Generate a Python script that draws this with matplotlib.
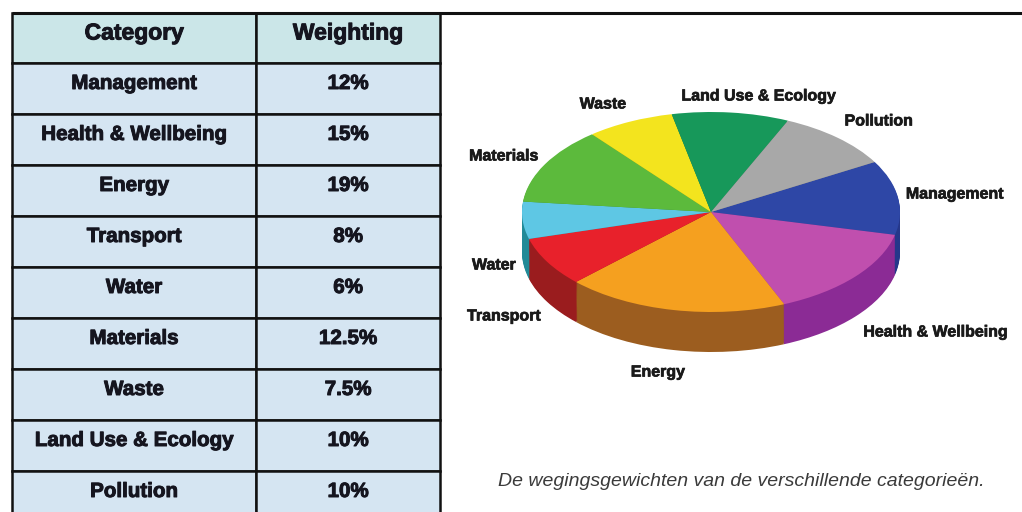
import numpy as np
import matplotlib.pyplot as plt
import matplotlib.patheffects as pe
from matplotlib.patches import Rectangle

# data
categories = ['Management', 'Health & Wellbeing', 'Energy', 'Transport', 'Water',
              'Materials', 'Waste', 'Land Use & Ecology', 'Pollution']
weightings = [12, 15, 19, 8, 6, 12.5, 7.5, 10, 10]
weight_labels = ['12%', '15%', '19%', '8%', '6%', '12.5%', '7.5%', '10%', '10%']
header = ['Category', 'Weighting']
caption = 'De wegingsgewichten van de verschillende categorieën.'

slice_colors = ['#2e47a6', '#c04fae', '#f5a01f', '#e8212b', '#5ec7e4',
                '#5cba3c', '#f3e41e', '#17985a', '#a8a8a8']
side_colors = ['#25378a', '#8b2b95', '#9c5d1f', '#9a1c1e', '#218a97',
               '#3f8a2a', '#b0a514', '#0f6e40', '#7a7a7a']

# pixel positions of the pie labels (centre of text)
label_pos = [(955, 194), (936, 332), (658, 372), (504, 316), (494, 265),
             (504, 156), (603, 104), (759, 96), (879, 121)]

plt.rcParams['font.family'] = ['Liberation Sans', 'DejaVu Sans']

heavy = [pe.withStroke(linewidth=0.7, foreground='#15151f')]

W, H = 1022, 512
fig = plt.figure(figsize=(W / 100, H / 100), dpi=100)

# ---- table (drawn in pixel coordinates) ----
tab = fig.add_axes([0, 0, 1, 1])
tab.set_xlim(0, W)
tab.set_ylim(H, 0)
tab.axis('off')

col_x = [12, 256, 440]
top, head_h, row_h = 13, 50, 51
head_color = '#cbe6e8'
cell_color = '#d5e5f2'
edge = '#111111'

for j in range(2):
    tab.add_patch(Rectangle((col_x[j], top), col_x[j + 1] - col_x[j], head_h,
                            facecolor=head_color, edgecolor=edge, lw=1.8))
    tab.text((col_x[j] + col_x[j + 1]) / 2, top + head_h / 2 - 5, header[j],
             ha='center', va='center', fontsize=16.5, fontweight='bold',
             color='#15151f', path_effects=heavy)

for i, (cat, wl) in enumerate(zip(categories, weight_labels)):
    y0 = top + head_h + i * row_h
    for j, txt in enumerate([cat, wl]):
        tab.add_patch(Rectangle((col_x[j], y0), col_x[j + 1] - col_x[j], row_h,
                                facecolor=cell_color, edgecolor=edge, lw=1.8))
        tab.text((col_x[j] + col_x[j + 1]) / 2, y0 + row_h / 2 - 5, txt,
                 ha='center', va='center', fontsize=14.8, fontweight='bold',
                 color='#15151f', path_effects=heavy)

# top rule across the whole page
tab.plot([12, W], [top, top], color='#111111', lw=2.2, solid_capstyle='butt')

# caption
tab.text(741, 481, caption, ha='center', va='center', fontsize=14,
         style='italic', color='#3a3a3a')

# ---- 3D-looking pie ----
cx, cy, rx, ry = 711, 212, 189, 100
xl, yl = (-1.1, 1.1), (-1.6, 1.1)
left = cx + xl[0] * rx
topp = cy - yl[1] * ry
pw = (xl[1] - xl[0]) * rx
ph = (yl[1] - yl[0]) * ry
pax = fig.add_axes([left / W, 1 - (topp + ph) / H, pw / W, ph / H])

depth = 0.4
for dz in np.linspace(depth, 0, 40)[:-1]:
    pax.pie(weightings, colors=side_colors, startangle=30, counterclock=False,
            center=(0, -dz), radius=1, wedgeprops=dict(linewidth=0))
pax.pie(weightings, colors=slice_colors, startangle=30, counterclock=False,
        center=(0, 0), radius=1, wedgeprops=dict(linewidth=0))
pax.set_aspect('auto')
pax.set_xlim(*xl)
pax.set_ylim(*yl)
pax.axis('off')

for cat, (x, y) in zip(categories, label_pos):
    fig.text(x / W, 1 - y / H, cat, ha='center', va='center', fontsize=11.5,
             fontweight='bold', color='#1a1a1a',
             path_effects=[pe.withStroke(linewidth=0.5, foreground='#1a1a1a')])

fig.savefig('out.png', dpi=100)
